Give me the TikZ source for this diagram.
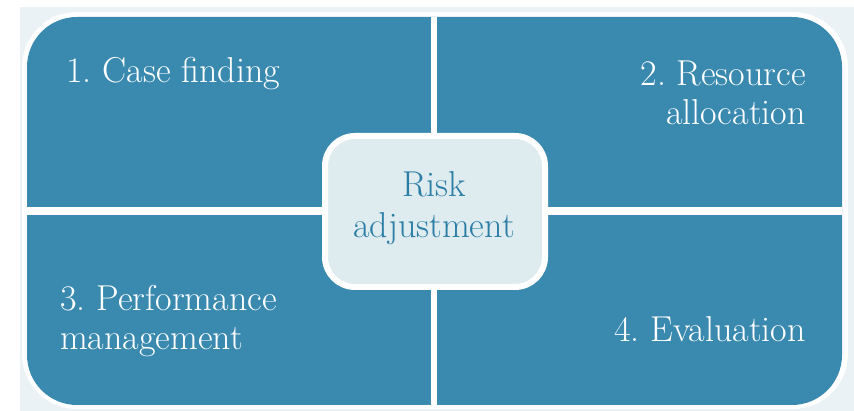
\documentclass[tikz,border=0pt]{standalone}
\usepackage{fontspec}
\definecolor{quadblue}{RGB}{58,138,176}
\definecolor{paleback}{RGB}{234,242,245}
\definecolor{hubfill}{RGB}{222,235,239}
\definecolor{hubtext}{RGB}{42,125,165}

\begin{document}
\frenchspacing
\begin{tikzpicture}[x=1pt, y=1pt,
    label/.style={inner sep=0pt, text=white, align=left,
      font=\fontsize{36}{39}\selectfont},
    hub/.style={inner sep=0pt, text=hubtext, align=center,
      font=\fontsize{36}{41}\selectfont}]

  % -------------------------------------------------------
  % Canvas 854 x 411, origin bottom left
  % Quadrant split : x = 434, y = 200
  % Multi-line labels sit on the baseline of their last line
  % -------------------------------------------------------
  \useasboundingbox (0, 0) rectangle (854, 411);
  \fill[white] (0, 0) rectangle (854, 411);
  \fill[paleback] (20, 0) rectangle (854, 404);

  % White rim round the quadrants
  \fill[white, rounded corners=55pt] (22, 2) rectangle (848, 399);

  % Four quadrants
  \fill[quadblue, rounded corners=50pt] (27, 6) rectangle (842, 394);

  % Gaps between quadrants
  \fill[white] (431, 6) rectangle (437, 394);
  \fill[white] (27, 196) rectangle (842, 204);

  % Centre box
  \filldraw[fill=hubfill, draw=white, line width=6pt, rounded corners=30pt]
    (325, 124) rectangle (545, 275);
  \node[hub, anchor=base] (risk) at (434, 173) {Risk\\adjustment};

  % Quadrant labels
  \node[label, anchor=base west] (casefind) at (66, 328)
    {1. Case finding};
  \node[label, anchor=base east, align=right] (resource) at (806, 286)
    {2. Resource\\allocation};
  \node[label, anchor=base west] (perform) at (60, 61)
    {3. Performance\\management};
  \node[label, anchor=base east] (evaluate) at (806, 69)
    {4. Evaluation};

\end{tikzpicture}
\end{document}
